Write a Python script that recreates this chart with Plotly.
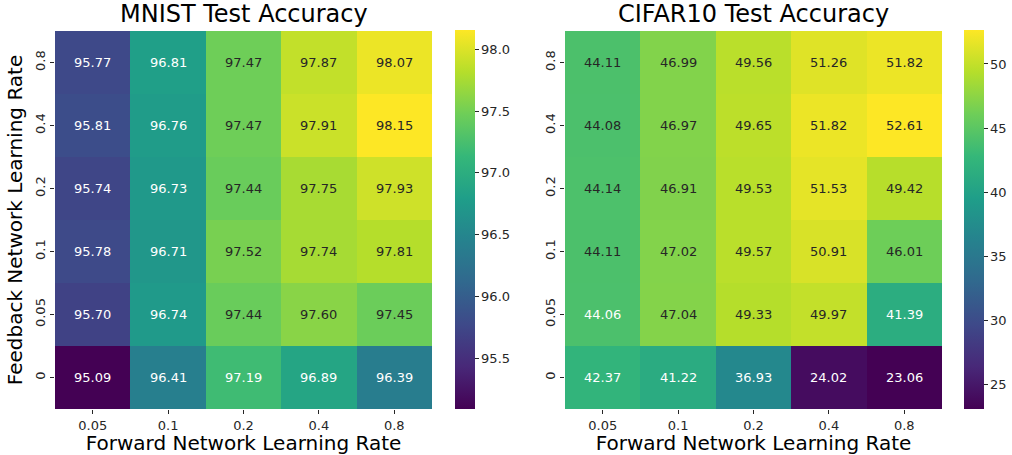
import numpy as np
import plotly.graph_objects as go

forward_lr = ["0.05", "0.1", "0.2", "0.4", "0.8"]
feedback_lr = ["0", "0.05", "0.1", "0.2", "0.4", "0.8"]  # bottom to top

# rows follow feedback_lr order (bottom row first)
mnist_acc = [
    [95.09, 96.41, 97.19, 96.89, 96.39],
    [95.70, 96.74, 97.44, 97.60, 97.45],
    [95.78, 96.71, 97.52, 97.74, 97.81],
    [95.74, 96.73, 97.44, 97.75, 97.93],
    [95.81, 96.76, 97.47, 97.91, 98.15],
    [95.77, 96.81, 97.47, 97.87, 98.07],
]
cifar_acc = [
    [42.37, 41.22, 36.93, 24.02, 23.06],
    [44.06, 47.04, 49.33, 49.97, 41.39],
    [44.11, 47.02, 49.57, 50.91, 46.01],
    [44.14, 46.91, 49.53, 51.53, 49.42],
    [44.08, 46.97, 49.65, 51.82, 52.61],
    [44.11, 46.99, 49.56, 51.26, 51.82],
]
titles = ["MNIST Test Accuracy", "CIFAR10 Test Accuracy"]

W, H = 1012, 455
FONT = "DejaVu Sans"
DARK = "#262626"

# pixel geometry of the two panels
panels = [
    dict(x0=55, x1=432, cb=455, data=mnist_acc, dtick=0.5, tick0=95.5, fmt=".1f"),
    dict(x0=565, x1=942, cb=964, data=cifar_acc, dtick=5, tick0=25, fmt="d"),
]
top, bottom = 31, 409

fig = go.Figure()
annotations = []
for i, p in enumerate(panels):
    z = np.array(p["data"])
    zmin, zmax = z.min(), z.max()
    xa = "x" if i == 0 else "x2"
    ya = "y" if i == 0 else "y2"
    fig.add_trace(go.Heatmap(
        z=z, x=forward_lr, y=feedback_lr, xaxis=xa, yaxis=ya,
        colorscale="Viridis", zmin=zmin, zmax=zmax, hoverongaps=False,
        colorbar=dict(
            x=p["cb"] / W, xanchor="left", xpad=0, ypad=0,
            y=1 - (top + bottom) / 2 / H, yanchor="middle",
            len=(bottom - top + 1) / H, lenmode="fraction",
            thickness=20, thicknessmode="pixels", outlinewidth=0,
            ticks="outside", ticklen=4, tickwidth=1, tickcolor=DARK,
            tick0=p["tick0"], dtick=p["dtick"], tickformat=p["fmt"],
            tickfont=dict(family=FONT, size=13, color=DARK),
        ),
    ))
    # cell labels: light text on the darker part of the colormap
    for r in range(len(feedback_lr)):
        for c in range(len(forward_lr)):
            v = z[r, c]
            t = (v - zmin) / (zmax - zmin)
            annotations.append(dict(
                x=c, y=r, xref=xa, yref=ya, text=f"{v:.2f}", showarrow=False,
                xanchor="center", yanchor="middle",
                font=dict(family=FONT, size=13, color=DARK if t > 0.711 else "white"),
            ))
    annotations.append(dict(
        x=(p["x0"] + p["x1"]) / 2 / W, y=1 - top / H, xref="paper", yref="paper",
        xanchor="center", yanchor="bottom", yshift=1, text=titles[i], showarrow=False,
        font=dict(family=FONT, size=24, color="black"),
    ))

axis_common = dict(
    type="category", showgrid=False, zeroline=False, showline=False,
    ticks="outside", ticklen=4, tickwidth=1, tickcolor=DARK,
    tickfont=dict(family=FONT, size=13, color=DARK),
)
title_font = dict(family=FONT, size=20, color="black")
ydom = [1 - bottom / H, 1 - top / H]
fig.update_layout(
    width=W, height=H, margin=dict(l=0, r=0, t=0, b=0),
    paper_bgcolor="white", plot_bgcolor="white",
    xaxis=dict(domain=[panels[0]["x0"] / W, panels[0]["x1"] / W], anchor="y",
               title=dict(text="Forward Network Learning Rate", standoff=4,
                          font=title_font), **axis_common),
    yaxis=dict(domain=ydom, anchor="x", tickangle=-90,
               title=dict(text="Feedback Network Learning Rate", standoff=4,
                          font=title_font), **axis_common),
    xaxis2=dict(domain=[panels[1]["x0"] / W, panels[1]["x1"] / W], anchor="y2",
                title=dict(text="Forward Network Learning Rate", standoff=4,
                           font=title_font), **axis_common),
    yaxis2=dict(domain=ydom, anchor="x2", tickangle=-90, **axis_common),
    annotations=annotations,
)

fig.write_html("out.html")
